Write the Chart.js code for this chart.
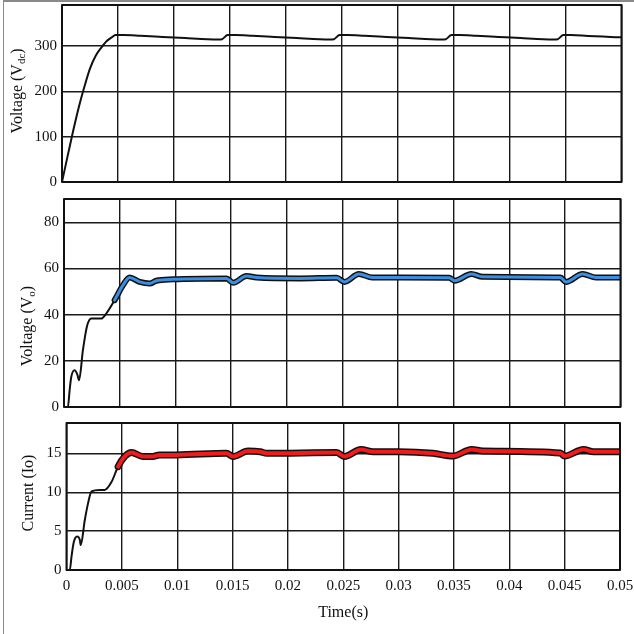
<!DOCTYPE html>
<html><head><meta charset="utf-8">
<script src="https://cdn.jsdelivr.net/npm/chart.js@4.4.0/dist/chart.umd.min.js"></script>
<style>
html,body{margin:0;padding:0;background:#fff;}
#wrap{position:relative;width:634px;height:634px;overflow:hidden;background:#fff;}
.frame{position:absolute;left:3px;top:0;width:640px;height:640px;border-left:1.5px solid #8a8a8a;border-top:2px solid #8a8a8a;box-sizing:border-box;}
.pane{position:absolute;left:0;width:634px;}
</style></head><body>
<div id="wrap">
<div class="frame"></div>
<div class="pane" style="top:410px;height:224px"><canvas id="c3"></canvas></div>
<div class="pane" style="top:192px;height:228px"><canvas id="c2"></canvas></div>
<div class="pane" style="top:0;height:200px"><canvas id="c1"></canvas></div>
</div>
<script>
// ---- data ----
const timeTicks = [0,0.005,0.01,0.015,0.02,0.025,0.03,0.035,0.04,0.045,0.05];
const timeLabels = ['0','0.005','0.01','0.015','0.02','0.025','0.03','0.035','0.04','0.045','0.05'];
const vdcTicks = [0,100,200,300];
const voTicks = [0,20,40,60,80];
const ioTicks = [0,5,10,15];

const vdcTime = [0,0.0005,0.001,0.0015,0.002,0.0025,0.003,0.0035,0.004,0.0045,0.0048,0.0055,0.007,0.009,0.011,0.013,0.014,0.0143,0.0148,0.0155,0.017,0.019,0.021,0.023,0.024,0.0243,0.0248,0.0255,0.027,0.029,0.031,0.033,0.034,0.0343,0.0348,0.0355,0.037,0.039,0.041,0.043,0.044,0.0443,0.0448,0.0455,0.047,0.049,0.05];
const vdcValues = [0,57,113,165,210,250,278,296,311,320,324,324,322.5,320,317.5,315,314.5,315,324,324,322.5,320,317.5,315,314.5,315,324,324,322.5,320,317.5,315,314.5,315,324,324,322.5,320,317.5,315,314.5,315,324,324,322,320,319];

const voTime = [0,0.00035,0.0005,0.00065,0.00095,0.0012,0.00135,0.0017,0.00205,0.00245,0.00335,0.0038,0.00455,0.0053,0.0059,0.0068,0.0077,0.0083,0.0098,0.0146,0.0152,0.0164,0.0173,0.0212,0.0245,0.0252,0.0265,0.0277,0.0346,0.0351,0.0366,0.0376,0.0446,0.0451,0.0466,0.0478,0.05];
const voValues = [0,0,7,13,15.9,14,11.6,24.6,34.7,38.3,38.3,40.5,46.3,52.8,56.1,54.2,53.5,54.7,55.3,55.7,53.8,56.7,56.1,55.7,56,54.2,57.6,56.1,56,54.7,57.6,56.4,56.1,54.2,57.6,56.1,56.1];

const ioTime = [0,0.0003,0.00045,0.00066,0.00096,0.0012,0.00129,0.00165,0.00195,0.00226,0.003,0.00346,0.00406,0.00466,0.00527,0.00587,0.0069,0.0078,0.0084,0.0099,0.01445,0.01505,0.0164,0.0175,0.0181,0.0244,0.0251,0.0266,0.0277,0.03,0.0331,0.0349,0.0366,0.0376,0.0446,0.045,0.0467,0.0476,0.05];
const ioValues = [0,0,1.7,3.6,4.3,3.9,3.2,6.4,8.6,10.1,10.3,10.3,11.3,13.3,14.6,15.1,14.6,14.6,14.8,14.8,15.0,14.6,15.3,15.2,15.0,15.1,14.6,15.5,15.2,15.2,15.0,14.65,15.5,15.3,15.05,14.65,15.5,15.2,15.2];

// ---- helpers ----
const FONT = 'Liberation Serif, "Times New Roman", serif';
const pts = (t, v) => t.map((x, i) => ({x, y: v[i]}));

function framePlugin(titleParts, tx, ty) {
  return {
    id: 'frameTitle',
    afterDatasetsDraw(chart) {
      const a = chart.chartArea, ctx = chart.ctx;
      ctx.save();
      ctx.strokeStyle = '#111';
      ctx.lineWidth = 2;
      ctx.lineJoin = 'round';
      ctx.strokeRect(a.left, a.top, a.right - a.left, a.bottom - a.top);
      ctx.restore();
    },
    afterDraw(chart) {
      const ctx = chart.ctx;
      ctx.save();
      ctx.translate(tx, ty);
      ctx.rotate(-Math.PI / 2);
      ctx.fillStyle = '#111';
      ctx.textBaseline = 'middle';
      let total = 0;
      const widths = titleParts.map(p => {
        ctx.font = (p.sub ? '11px ' : '16px ') + FONT;
        const w = ctx.measureText(p.t).width;
        total += w;
        return w;
      });
      let x = -total / 2;
      titleParts.forEach((p, i) => {
        ctx.font = (p.sub ? '11px ' : '16px ') + FONT;
        ctx.fillText(p.t, x, p.sub ? 4 : 0);
        x += widths[i];
      });
      ctx.restore();
    }
  };
}

function makeChart(id, cfg) {
  const thin = cfg.thinUntil;
  const datasets = [];
  if (cfg.bandColor) {
    datasets.push({
      data: cfg.data, borderColor: cfg.bandColor, borderWidth: cfg.innerW, order: 0,
      cubicInterpolationMode: 'monotone', pointRadius: 0,
      segment: { borderColor: c => c.p0.parsed.x < thin ? 'rgba(0,0,0,0)' : cfg.bandColor }
    });
    datasets.push({
      data: cfg.data, borderColor: '#111', borderWidth: 2, order: 1,
      cubicInterpolationMode: 'monotone', pointRadius: 0,
      segment: { borderWidth: c => c.p0.parsed.x < thin ? 2 : cfg.outerW }
    });
  } else {
    datasets.push({
      data: cfg.data, borderColor: '#111', borderWidth: 2,
      cubicInterpolationMode: 'monotone', pointRadius: 0
    });
  }
  return new Chart(document.getElementById(id), {
    type: 'line',
    data: { datasets },
    options: {
      responsive: true, maintainAspectRatio: false, animation: false,
      layout: { padding: { left: 0, right: cfg.padRight, top: cfg.padTop, bottom: cfg.padBottom } },
      plugins: { legend: { display: false }, tooltip: { enabled: false } },
      elements: { point: { radius: 0 }, line: { borderCapStyle: 'round', borderJoinStyle: 'round' } },
      scales: {
        x: {
          type: 'linear', min: 0, max: 0.05,
          afterBuildTicks: s => { s.ticks = timeTicks.map(v => ({ value: v })); },
          afterFit: s => { s.height = cfg.xHeight; s.paddingLeft = 0; s.paddingRight = 0; },
          grid: { color: '#1a1a1a', lineWidth: 1.4, drawTicks: false },
          border: { display: false },
          ticks: {
            display: cfg.showX, padding: 7, color: '#111', maxRotation: 0, autoSkip: false,
            font: { family: FONT, size: 15 },
            callback: (v, i) => timeLabels[i]
          },
          title: {
            display: cfg.showX, text: 'Time(s)', color: '#111',
            font: { family: FONT, size: 16 }, padding: { top: 4, bottom: 12 }
          }
        },
        y: {
          min: 0, max: cfg.yMax,
          afterBuildTicks: s => { s.ticks = cfg.yTicks.map(v => ({ value: v })); },
          afterFit: s => { s.width = cfg.yWidth; s.paddingTop = 0; s.paddingBottom = 0; },
          grid: { color: '#1a1a1a', lineWidth: 1.4, drawTicks: false },
          border: { display: false },
          ticks: { padding: 5, color: '#111', font: { family: FONT, size: 15 } }
        }
      }
    },
    plugins: [framePlugin(cfg.title, cfg.tx, cfg.ty)]
  });
}

makeChart('c1', {
  data: pts(vdcTime, vdcValues), yMax: 390.4, yTicks: vdcTicks,
  padRight: 12.5, padTop: 5, padBottom: 18, xHeight: 0, yWidth: 62, showX: false,
  title: [{ t: 'Voltage (V' }, { t: 'dc', sub: true }, { t: ')' }], tx: 18, ty: 91
});
makeChart('c2', {
  data: pts(voTime, voValues), yMax: 90.1, yTicks: voTicks,
  padRight: 13.5, padTop: 7, padBottom: 13, xHeight: 0, yWidth: 64, showX: false,
  bandColor: '#3a8fe3', outerW: 6, innerW: 3, thinUntil: 0.0042,
  title: [{ t: 'Voltage (V' }, { t: 'o', sub: true }, { t: ')' }], tx: 28, ty: 134
});
makeChart('c3', {
  data: pts(ioTime, ioValues), yMax: 18.9, yTicks: ioTicks,
  padRight: 14, padTop: 13, padBottom: 0, xHeight: 64, yWidth: 66.5, showX: true,
  bandColor: '#f21b1b', outerW: 7, innerW: 4, thinUntil: 0.0045,
  title: [{ t: 'Current (Io)' }], tx: 28.5, ty: 83
});
</script>
</body></html>
